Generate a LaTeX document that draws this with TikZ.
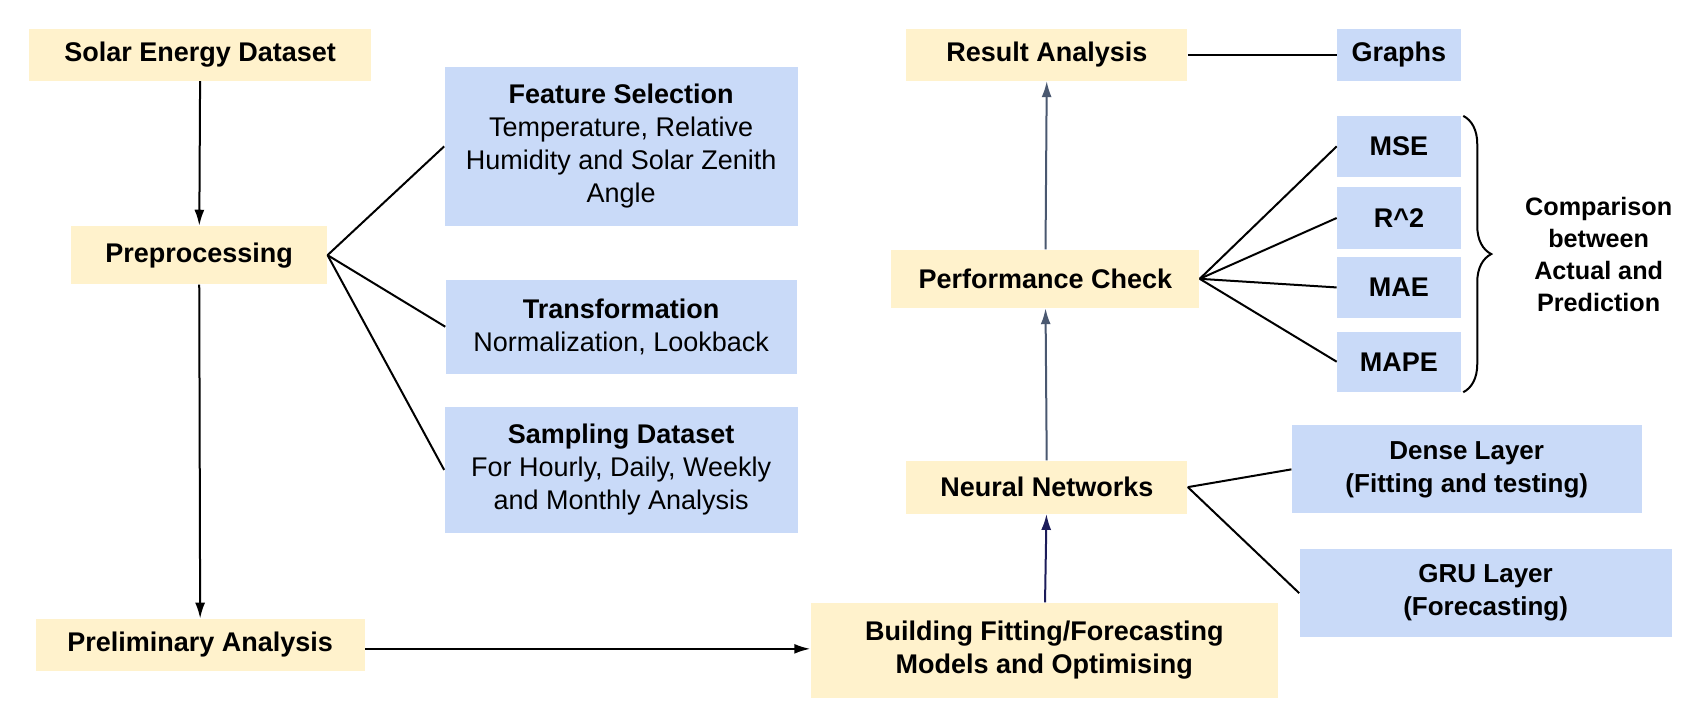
\documentclass[tikz,border=0pt]{standalone}
\usepackage{fontspec}
\setmainfont{Liberation Sans}
\usetikzlibrary{arrows.meta,decorations.pathreplacing}

\definecolor{stepyellow}{HTML}{FFF2CC}
\definecolor{infoblue}{HTML}{C9DAF8}
\definecolor{navyline}{HTML}{1C1C5A}
\definecolor{slateline}{HTML}{4A5870}

\begin{document}
\begin{tikzpicture}[x=0.5383pt, y=-0.5383pt,
		>={Latex[length=8pt,width=5pt]},
		step_style/.style={fill=stepyellow, draw=none, align=center, inner sep=0pt,
			font=\fontsize{13.5}{16.5}\selectfont\bfseries},
		info_style/.style={fill=infoblue, draw=none, align=center, inner sep=0pt,
			font=\fontsize{13.5}{16.5}\selectfont\bfseries},
		edge_style/.style={draw=black, line width=1pt},
		arrow_style/.style={->, draw=black, line width=1pt}]

		\useasboundingbox (0,0) rectangle (1568,665);

		% left column
		\node[step_style, minimum width=171pt, minimum height=25.8pt] (n0) at (186,51) {Solar Energy Dataset};
		\node[step_style, minimum width=128pt, minimum height=29pt] (n1) at (185,237) {Preprocessing};
		\node[step_style, minimum width=164.7pt, minimum height=25.8pt] (n2) at (186,599) {Preliminary Analysis};

		% preprocessing steps
		\node[info_style, minimum width=176.6pt, minimum height=79.7pt] (n3) at (577,136)
			{Feature Selection\\ \mdseries Temperature, Relative\\ \mdseries Humidity and Solar Zenith\\ \mdseries Angle};
		\node[info_style, minimum width=175.5pt, minimum height=46.8pt] (n4) at (577,303.5)
			{Transformation\\ \mdseries Normalization, Lookback};
		\node[info_style, minimum width=176.6pt, minimum height=63pt] (n5) at (577,436.5)
			{Sampling Dataset\\ \mdseries For Hourly, Daily, Weekly\\ \mdseries and Monthly Analysis};

		% middle column
		\node[step_style, minimum width=233.6pt, minimum height=47.4pt] (n6) at (970,604)
			{Building Fitting/Forecasting\\ Models and Optimising};
		\node[step_style, minimum width=140.5pt, minimum height=26.4pt] (n7) at (972.5,452.5) {Neural Networks};
		\node[step_style, minimum width=154pt, minimum height=29pt] (n8) at (971,259) {Performance Check};
		\node[step_style, minimum width=140.5pt, minimum height=25.8pt] (n9) at (972.5,51) {Result Analysis};

		% right column
		\node[info_style, minimum width=61.9pt, minimum height=25.8pt] (n10) at (1299.5,51) {Graphs};
		\node[info_style, minimum width=61.9pt, minimum height=30.1pt] (n11) at (1299.5,136) {MSE};
		\node[info_style, minimum width=61.9pt, minimum height=30.6pt] (n12) at (1299.5,202.5) {R\^{}2};
		\node[info_style, minimum width=61.9pt, minimum height=30.1pt] (n13) at (1299.5,267) {MAE};
		\node[info_style, minimum width=61.9pt, minimum height=30.1pt] (n14) at (1299.5,336) {MAPE};
		\node[info_style, minimum width=175pt, minimum height=44.1pt,
			font=\fontsize{13}{16.5}\selectfont\bfseries] (n15) at (1362.5,436)
			{Dense Layer\\ (Fitting and testing)};
		\node[info_style, minimum width=186pt, minimum height=44.1pt,
			font=\fontsize{13}{16.5}\selectfont\bfseries] (n16) at (1380,551)
			{GRU Layer\\ (Forecasting)};
		\node[align=center, font=\fontsize{12.6}{16}\selectfont\bfseries] (n17) at (1485,236)
			{Comparison\\ between\\ Actual and\\ Prediction};

		\draw[arrow_style] (n0) -- (n1);
		\draw[arrow_style] (n1) -- (n2);
		\draw[arrow_style] ([yshift=-2pt]n2.east) -- ([yshift=-2pt]n2.east -| n6.west);
		\draw[arrow_style, draw=navyline, -{Latex[length=8pt,width=5pt,fill=navyline]}] (n6) -- (n7);
		\draw[arrow_style, draw=slateline, -{Latex[length=8pt,width=5pt,fill=slateline]}] (n7) -- (n8);
		\draw[arrow_style, draw=slateline, -{Latex[length=8pt,width=5pt,fill=slateline]}] (n8) -- (n9);

		\draw[edge_style] (n1.east) edge (n3.west);
		\draw[edge_style] (n1.east) edge (n4.west);
		\draw[edge_style] (n1.east) edge (n5.west);
		\draw[edge_style] (n9) edge (n10);
		\draw[edge_style] (n8.east) edge (n11.west);
		\draw[edge_style] (n8.east) edge (n12.west);
		\draw[edge_style] (n8.east) edge (n13.west);
		\draw[edge_style] (n8.east) edge (n14.west);
		\draw[edge_style] (n7.east) edge (n15.west);
		\draw[edge_style] (n7.east) edge (n16.west);

		\draw[edge_style, decorate, decoration={brace, amplitude=14pt}]
			([xshift=1pt]n11.north east) -- ([xshift=1pt]n14.south east);
\end{tikzpicture}
\end{document}
